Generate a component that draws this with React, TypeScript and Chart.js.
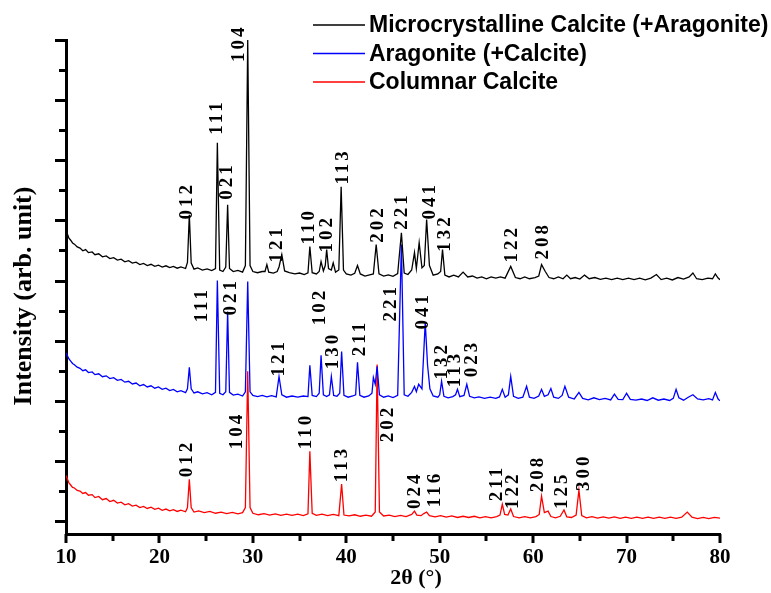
import React, { useEffect, useRef } from 'react';
import { Chart, registerables } from 'chart.js';

Chart.register(...registerables);

// ---------- data (2θ in degrees, intensity in arbitrary units, traces offset) ----------
const seriesNames = [
  'Microcrystalline Calcite (+Aragonite)',
  'Aragonite (+Calcite)',
  'Columnar Calcite',
];
const seriesColors = ['#000000', '#0000ff', '#ff0000'];

const microcrystalline: [number, number][] = [
  [10.0, 962], [10.15, 955], [10.3, 942], [10.5, 934], [10.7, 925], [10.9, 921], [11.2, 912], [11.5, 908],
  [11.8, 899], [12.1, 903], [12.4, 893], [12.8, 895], [13.1, 886], [13.5, 889], [13.9, 879], [14.3, 882],
  [14.7, 873], [15.1, 876], [15.5, 868], [15.9, 871], [16.3, 862], [16.7, 866], [17.1, 858], [17.5, 861],
  [17.9, 853], [18.3, 857], [18.7, 850], [19.1, 854], [19.5, 847], [19.9, 851], [20.3, 845], [20.7, 849],
  [21.1, 843], [21.5, 847], [21.9, 841], [22.3, 845], [22.8, 840], [23.0, 860], [23.2, 1019], [23.4, 858],
  [23.7, 838], [24.1, 842], [24.6, 835], [25.1, 839], [25.6, 833], [26.0, 840], [26.2, 1258], [26.45, 835],
  [26.8, 830], [27.1, 845], [27.3, 1052], [27.5, 840], [27.9, 830], [28.4, 834], [28.9, 828], [29.2, 850],
  [29.45, 1600], [29.7, 850], [30.0, 830], [30.5, 826], [31.0, 830], [31.3, 830], [31.5, 853], [31.7, 828],
  [32.2, 825], [32.6, 830], [32.8, 845], [33.1, 886], [33.4, 832], [33.9, 826], [34.5, 822], [35.0, 825],
  [35.5, 820], [35.9, 826], [36.1, 913], [36.35, 826], [36.8, 822], [37.1, 830], [37.3, 863], [37.55, 832],
  [37.75, 850], [37.9, 903], [38.1, 840], [38.4, 835], [38.6, 859], [38.85, 828], [39.2, 835], [39.45, 1112],
  [39.7, 835], [40.0, 822], [40.5, 818], [40.9, 824], [41.2, 850], [41.5, 822], [42.0, 815], [42.5, 819],
  [42.9, 822], [43.2, 920], [43.5, 822], [44.0, 815], [44.5, 819], [45.0, 814], [45.5, 823], [45.9, 959],
  [46.2, 825], [46.6, 820], [47.0, 835], [47.3, 893], [47.5, 840], [47.8, 926], [48.1, 842], [48.35, 850],
  [48.6, 1003], [48.9, 850], [49.3, 818], [49.8, 822], [50.1, 830], [50.3, 903], [50.55, 818], [51.0, 812],
  [51.5, 818], [52.0, 812], [52.5, 828], [53.0, 812], [53.5, 815], [54.0, 808], [54.5, 812], [55.0, 806],
  [55.5, 812], [56.0, 808], [56.5, 812], [57.0, 808], [57.6, 847], [58.1, 810], [58.6, 806], [59.1, 812],
  [59.6, 806], [60.2, 810], [60.6, 815], [60.9, 853], [61.3, 830], [61.7, 810], [62.2, 806], [62.7, 812],
  [63.2, 806], [63.6, 818], [64.0, 806], [64.5, 810], [65.0, 805], [65.5, 818], [66.0, 806], [66.6, 810],
  [67.2, 804], [67.8, 808], [68.4, 803], [69.0, 808], [69.6, 803], [70.2, 808], [70.8, 803], [71.4, 808],
  [72.0, 802], [72.6, 808], [73.2, 820], [73.7, 803], [74.3, 808], [74.9, 802], [75.5, 810], [76.1, 805],
  [76.7, 812], [77.1, 825], [77.5, 806], [78.1, 803], [78.7, 808], [79.2, 806], [79.5, 822], [79.8, 808],
  [80.0, 803],
];

const aragonite: [number, number][] = [
  [10.0, 560], [10.15, 550], [10.3, 540], [10.5, 532], [10.7, 524], [10.9, 520], [11.2, 512], [11.5, 508],
  [11.8, 500], [12.1, 503], [12.4, 494], [12.8, 496], [13.1, 487], [13.5, 490], [13.9, 480], [14.3, 483],
  [14.7, 474], [15.1, 477], [15.5, 468], [15.9, 471], [16.3, 462], [16.7, 465], [17.1, 456], [17.5, 459],
  [17.9, 450], [18.3, 454], [18.7, 446], [19.1, 450], [19.5, 442], [19.9, 446], [20.3, 438], [20.7, 442],
  [21.1, 434], [21.5, 438], [21.9, 430], [22.3, 434], [22.8, 427], [23.0, 440], [23.2, 511], [23.4, 440],
  [23.7, 426], [24.1, 430], [24.6, 423], [25.1, 427], [25.6, 420], [26.0, 428], [26.2, 800], [26.45, 425],
  [26.8, 420], [27.1, 430], [27.3, 697], [27.5, 428], [27.9, 419], [28.4, 422], [28.9, 416], [29.2, 430],
  [29.45, 797], [29.7, 430], [30.0, 418], [30.5, 414], [31.0, 418], [31.5, 413], [32.0, 417], [32.5, 413],
  [32.8, 481], [33.1, 420], [33.6, 412], [34.2, 416], [34.8, 412], [35.4, 416], [35.9, 414], [36.1, 518],
  [36.35, 418], [36.8, 414], [37.1, 425], [37.3, 551], [37.55, 420], [37.9, 414], [38.2, 420], [38.4, 481],
  [38.65, 418], [39.0, 415], [39.3, 425], [39.5, 564], [39.75, 418], [40.2, 412], [40.7, 416], [41.0, 420],
  [41.2, 528], [41.45, 418], [41.9, 412], [42.4, 416], [42.75, 425], [42.9, 478], [43.1, 455], [43.3, 515],
  [43.55, 420], [44.0, 412], [44.5, 416], [45.0, 411], [45.5, 418], [45.9, 920], [46.2, 420], [46.6, 415],
  [47.0, 428], [47.3, 448], [47.5, 430], [47.75, 455], [48.1, 440], [48.45, 661], [48.7, 518], [48.95, 440],
  [49.3, 416], [49.8, 412], [50.0, 420], [50.2, 465], [50.45, 415], [50.9, 410], [51.4, 414], [51.7, 420],
  [51.9, 438], [52.15, 414], [52.6, 418], [52.9, 455], [53.2, 415], [53.7, 410], [54.2, 413], [54.8, 408],
  [55.4, 412], [56.0, 408], [56.4, 413], [56.7, 438], [57.0, 412], [57.35, 420], [57.6, 481], [57.9, 415],
  [58.4, 408], [58.9, 412], [59.3, 448], [59.6, 412], [60.1, 408], [60.6, 416], [60.9, 438], [61.2, 415],
  [61.6, 420], [61.9, 441], [62.2, 412], [62.7, 408], [63.1, 418], [63.4, 448], [63.8, 412], [64.4, 406],
  [64.9, 428], [65.3, 408], [65.9, 403], [66.5, 410], [67.1, 404], [67.7, 408], [68.3, 403], [68.7, 422],
  [69.1, 405], [69.6, 404], [70.0, 425], [70.4, 405], [71.0, 402], [71.6, 406], [72.2, 401], [72.8, 410],
  [73.4, 402], [74.0, 406], [74.6, 401], [75.0, 408], [75.3, 438], [75.6, 410], [76.1, 402], [76.6, 412],
  [77.1, 420], [77.6, 406], [78.2, 403], [78.8, 407], [79.2, 403], [79.5, 428], [79.8, 406], [80.0, 400],
];

const columnar: [number, number][] = [
  [10.0, 152], [10.15, 140], [10.3, 128], [10.5, 120], [10.7, 112], [10.9, 110], [11.2, 102], [11.5, 100],
  [11.8, 92], [12.1, 95], [12.4, 86], [12.8, 88], [13.1, 78], [13.5, 82], [13.9, 71], [14.3, 75],
  [14.7, 65], [15.1, 69], [15.5, 60], [15.9, 63], [16.3, 54], [16.7, 58], [17.1, 50], [17.5, 53],
  [17.9, 45], [18.3, 49], [18.7, 42], [19.1, 46], [19.5, 39], [19.9, 43], [20.3, 36], [20.7, 40],
  [21.1, 34], [21.5, 38], [21.9, 32], [22.3, 36], [22.8, 31], [23.0, 45], [23.2, 139], [23.4, 45],
  [23.7, 30], [24.2, 34], [24.8, 28], [25.4, 32], [26.0, 26], [26.6, 30], [27.2, 25], [27.8, 29],
  [28.4, 24], [28.9, 28], [29.2, 45], [29.45, 498], [29.7, 45], [30.0, 26], [30.6, 21], [31.2, 25],
  [31.8, 20], [32.4, 24], [33.0, 19], [33.6, 23], [34.2, 19], [34.8, 23], [35.4, 18], [35.9, 24],
  [36.1, 232], [36.35, 26], [36.8, 19], [37.4, 23], [38.0, 18], [38.6, 22], [39.2, 18], [39.5, 123],
  [39.75, 20], [40.3, 17], [40.9, 21], [41.5, 16], [42.1, 20], [42.7, 16], [43.1, 30], [43.3, 521],
  [43.55, 30], [44.0, 17], [44.6, 20], [45.2, 15], [45.8, 19], [46.4, 15], [47.0, 22], [47.3, 33],
  [47.55, 20], [48.0, 18], [48.3, 25], [48.6, 30], [48.9, 18], [49.5, 14], [50.1, 18], [50.7, 13],
  [51.3, 17], [51.9, 12], [52.5, 16], [53.1, 12], [53.7, 16], [54.3, 11], [54.9, 15], [55.5, 11],
  [56.1, 15], [56.45, 20], [56.7, 56], [56.95, 22], [57.3, 20], [57.6, 40], [57.9, 15], [58.5, 11],
  [59.1, 15], [59.7, 11], [60.3, 15], [60.65, 22], [60.9, 83], [61.2, 28], [61.6, 33], [61.9, 15],
  [62.4, 11], [62.9, 16], [63.3, 37], [63.6, 14], [64.1, 12], [64.6, 20], [64.9, 103], [65.2, 18],
  [65.7, 11], [66.3, 15], [66.9, 10], [67.5, 14], [68.1, 10], [68.7, 14], [69.3, 9], [69.9, 13],
  [70.5, 9], [71.1, 13], [71.7, 9], [72.3, 13], [72.9, 9], [73.5, 13], [74.1, 9], [74.7, 13],
  [75.3, 9], [75.9, 13], [76.5, 30], [77.0, 13], [77.6, 8], [78.2, 12], [78.8, 8], [79.4, 12],
  [80.0, 10],
];

// Miller-index annotations: text, 2θ of label centre, intensity where the label starts
const microHkl = ['012', '111', '021', '104', '121', '110', '102', '113', '202', '221', '041', '132', '122', '208'];
const microHklTheta = [22.98, 26.2, 27.27, 28.56, 32.64, 36.07, 37.9, 39.61, 43.37, 45.94, 48.95, 50.56, 57.75, 61.07];
const microHklY = [1003, 1285, 1069, 1527, 860, 920, 893, 1119, 926, 969, 1003, 896, 860, 870];

const aragHkl = ['111', '021', '121', '102', '130', '211', '221', '041', '132', '113', '023'];
const aragHklTheta = [24.59, 27.7, 32.85, 37.15, 38.54, 41.44, 44.76, 48.2, 50.24, 51.63, 53.45];
const aragHklY = [661, 684, 481, 651, 505, 548, 664, 637, 471, 445, 478];

const colHkl = ['012', '104', '110', '113', '202', '024', '116', '211', '122', '208', '125', '300'];
const colHklTheta = [22.98, 28.35, 35.75, 39.5, 44.44, 47.34, 49.48, 56.14, 57.85, 60.54, 63.11, 65.47];
const colHklY = [146, 239, 239, 129, 262, 40, 46, 66, 40, 96, 40, 100];

const xMin = 10;
const xMax = 80;
const xMajorStep = 10;
const xMinorStep = 5;
const yMin = -43;
const yMax = 1600;
const yTickStep = 100;

const xTitle = '2θ (°)';
const yTitle = 'Intensity (arb. unit)';

const decorPlugin = {
  id: 'decor',
  afterDraw(chart: any) {
    const ctx: CanvasRenderingContext2D = chart.ctx;
    const xs = chart.scales.x;
    const ys = chart.scales.y;
    const area = chart.chartArea;
    ctx.save();

    // tick marks
    ctx.strokeStyle = '#000';
    ctx.lineWidth = 3;
    ctx.lineCap = 'butt';
    for (let v = xMin; v <= xMax; v += xMinorStep) {
      const px = Math.round(xs.getPixelForValue(v));
      const major = (v - xMin) % xMajorStep === 0;
      ctx.beginPath();
      ctx.moveTo(px, area.bottom);
      ctx.lineTo(px, area.bottom + (major ? 9 : 7));
      ctx.stroke();
    }
    for (let v = 0; v <= yMax; v += yTickStep) {
      const py = Math.round(ys.getPixelForValue(v));
      const long = v % (2 * yTickStep) === 0;
      ctx.beginPath();
      ctx.moveTo(area.left - (long ? 11 : 7), py + 0.5);
      ctx.lineTo(area.left, py + 0.5);
      ctx.stroke();
    }

    // hkl labels
    ctx.fillStyle = '#000';
    ctx.font = 'bold 19px "Liberation Serif", serif';
    (ctx as any).letterSpacing = '3px';
    ctx.textAlign = 'left';
    ctx.textBaseline = 'middle';
    const groups: [string[], number[], number[]][] = [
      [microHkl, microHklTheta, microHklY],
      [aragHkl, aragHklTheta, aragHklY],
      [colHkl, colHklTheta, colHklY],
    ];
    groups.forEach(([texts, thetas, ys2]) => {
      texts.forEach((t, i) => {
        const px = xs.getPixelForValue(thetas[i]);
        const py = ys.getPixelForValue(ys2[i]);
        ctx.save();
        ctx.translate(px, py);
        ctx.rotate(-Math.PI / 2);
        ctx.fillText(t, 0, 0);
        ctx.restore();
      });
    });
    (ctx as any).letterSpacing = '0px';

    // axis titles
    ctx.textAlign = 'center';
    ctx.textBaseline = 'middle';
    ctx.font = 'bold 22px "Liberation Serif", serif';
    ctx.fillText(xTitle, (area.left + area.right) / 2 + 23, 578);
    ctx.save();
    ctx.translate(24, (area.top + area.bottom) / 2 + 9);
    ctx.rotate(-Math.PI / 2);
    ctx.font = 'bold 26px "Liberation Serif", serif';
    ctx.fillText(yTitle, 0, 0);
    ctx.restore();

    // legend
    ctx.textAlign = 'left';
    ctx.font = 'bold 23px "Liberation Sans", Arial, sans-serif';
    chart.data.datasets.forEach((ds: any, i: number) => {
      const ly = 25 + i * 28.5;
      ctx.strokeStyle = ds.borderColor;
      ctx.lineWidth = 1.5;
      ctx.beginPath();
      ctx.moveTo(313, ly);
      ctx.lineTo(365, ly);
      ctx.stroke();
      ctx.fillStyle = '#000';
      ctx.fillText(ds.label, 369, ly + 1);
    });

    ctx.restore();
  },
};

export default function App() {
  const ref = useRef<HTMLCanvasElement>(null);
  useEffect(() => {
    document.body.style.margin = '0';
    const seriesData = [microcrystalline, aragonite, columnar];
    const chart = new Chart(ref.current as HTMLCanvasElement, {
      type: 'line',
      data: {
        datasets: seriesData.map((d, i) => ({
          label: seriesNames[i],
          data: d.map(([x, y]) => ({ x, y })),
          borderColor: seriesColors[i],
          borderWidth: 1.3,
          pointRadius: 0,
          tension: 0,
          fill: false,
        })),
      },
      options: {
        responsive: false,
        animation: false,
        devicePixelRatio: 1,
        layout: { padding: { top: 40, right: 51, left: 0, bottom: 0 } },
        plugins: { legend: { display: false }, tooltip: { enabled: false } },
        scales: {
          x: {
            type: 'linear',
            min: xMin,
            max: xMax,
            ticks: {
              stepSize: xMajorStep,
              color: '#000',
              padding: 11,
              font: { family: '"Liberation Serif", serif', weight: 'bold', size: 21 },
            },
            grid: { display: false, drawTicks: false },
            border: { display: true, color: '#000', width: 3 },
            afterFit: (s: any) => { s.height = 59; },
          },
          y: {
            type: 'linear',
            min: yMin,
            max: yMax,
            ticks: { display: false, stepSize: yTickStep },
            grid: { display: false, drawTicks: false },
            border: { display: true, color: '#000', width: 3 },
            afterFit: (s: any) => { s.width = 66; },
          },
        },
      },
      plugins: [decorPlugin],
    } as any);
    return () => chart.destroy();
  }, []);
  return (
    <div style={{ position: 'absolute', left: 0, top: 0, width: 771, height: 593, background: '#fff' }}>
      <canvas ref={ref} width={771} height={593} />
    </div>
  );
}
